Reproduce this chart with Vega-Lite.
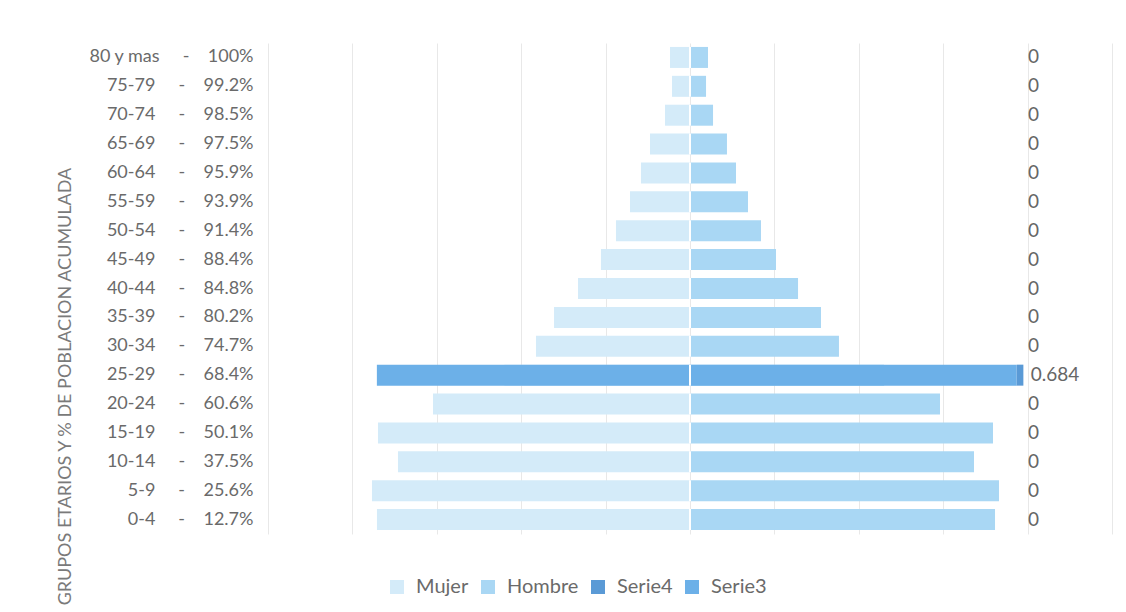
{
  "$schema": "https://vega.github.io/schema/vega-lite/v6.json",
  "width": 844,
  "height": 491,
  "autosize": {"type": "none"},
  "padding": {"left": 268, "top": 43, "right": 14, "bottom": 78},
  "background": "white",
  "config": {"view": {"stroke": null}, "font": "Lato"},
  "datasets": {
    "barras": [
      {"grupo": "80 y mas\u00a0\u00a0\u00a0\u00a0\u00a0-\u00a0\u00a0\u00a0\u00a0100%", "serie": "Mujer", "desde": 0, "hasta": -0.237},
      {"grupo": "75-79\u00a0\u00a0\u00a0\u00a0\u00a0-\u00a0\u00a0\u00a0\u00a099.2%", "serie": "Mujer", "desde": 0, "hasta": -0.213},
      {"grupo": "70-74\u00a0\u00a0\u00a0\u00a0\u00a0-\u00a0\u00a0\u00a0\u00a098.5%", "serie": "Mujer", "desde": 0, "hasta": -0.296},
      {"grupo": "65-69\u00a0\u00a0\u00a0\u00a0\u00a0-\u00a0\u00a0\u00a0\u00a097.5%", "serie": "Mujer", "desde": 0, "hasta": -0.474},
      {"grupo": "60-64\u00a0\u00a0\u00a0\u00a0\u00a0-\u00a0\u00a0\u00a0\u00a095.9%", "serie": "Mujer", "desde": 0, "hasta": -0.581},
      {"grupo": "55-59\u00a0\u00a0\u00a0\u00a0\u00a0-\u00a0\u00a0\u00a0\u00a093.9%", "serie": "Mujer", "desde": 0, "hasta": -0.711},
      {"grupo": "50-54\u00a0\u00a0\u00a0\u00a0\u00a0-\u00a0\u00a0\u00a0\u00a091.4%", "serie": "Mujer", "desde": 0, "hasta": -0.877},
      {"grupo": "45-49\u00a0\u00a0\u00a0\u00a0\u00a0-\u00a0\u00a0\u00a0\u00a088.4%", "serie": "Mujer", "desde": 0, "hasta": -1.055},
      {"grupo": "40-44\u00a0\u00a0\u00a0\u00a0\u00a0-\u00a0\u00a0\u00a0\u00a084.8%", "serie": "Mujer", "desde": 0, "hasta": -1.327},
      {"grupo": "35-39\u00a0\u00a0\u00a0\u00a0\u00a0-\u00a0\u00a0\u00a0\u00a080.2%", "serie": "Mujer", "desde": 0, "hasta": -1.611},
      {"grupo": "30-34\u00a0\u00a0\u00a0\u00a0\u00a0-\u00a0\u00a0\u00a0\u00a074.7%", "serie": "Mujer", "desde": 0, "hasta": -1.825},
      {"grupo": "25-29\u00a0\u00a0\u00a0\u00a0\u00a0-\u00a0\u00a0\u00a0\u00a068.4%", "serie": "Mujer", "desde": 0, "hasta": -2.2},
      {"grupo": "20-24\u00a0\u00a0\u00a0\u00a0\u00a0-\u00a0\u00a0\u00a0\u00a060.6%", "serie": "Mujer", "desde": 0, "hasta": -3.045},
      {"grupo": "15-19\u00a0\u00a0\u00a0\u00a0\u00a0-\u00a0\u00a0\u00a0\u00a050.1%", "serie": "Mujer", "desde": 0, "hasta": -3.697},
      {"grupo": "10-14\u00a0\u00a0\u00a0\u00a0\u00a0-\u00a0\u00a0\u00a0\u00a037.5%", "serie": "Mujer", "desde": 0, "hasta": -3.46},
      {"grupo": "5-9\u00a0\u00a0\u00a0\u00a0\u00a0-\u00a0\u00a0\u00a0\u00a025.6%", "serie": "Mujer", "desde": 0, "hasta": -3.768},
      {"grupo": "0-4\u00a0\u00a0\u00a0\u00a0\u00a0-\u00a0\u00a0\u00a0\u00a012.7%", "serie": "Mujer", "desde": 0, "hasta": -3.709},
      {"grupo": "80 y mas\u00a0\u00a0\u00a0\u00a0\u00a0-\u00a0\u00a0\u00a0\u00a0100%", "serie": "Hombre", "desde": 0, "hasta": 0.213},
      {"grupo": "75-79\u00a0\u00a0\u00a0\u00a0\u00a0-\u00a0\u00a0\u00a0\u00a099.2%", "serie": "Hombre", "desde": 0, "hasta": 0.19},
      {"grupo": "70-74\u00a0\u00a0\u00a0\u00a0\u00a0-\u00a0\u00a0\u00a0\u00a098.5%", "serie": "Hombre", "desde": 0, "hasta": 0.273},
      {"grupo": "65-69\u00a0\u00a0\u00a0\u00a0\u00a0-\u00a0\u00a0\u00a0\u00a097.5%", "serie": "Hombre", "desde": 0, "hasta": 0.438},
      {"grupo": "60-64\u00a0\u00a0\u00a0\u00a0\u00a0-\u00a0\u00a0\u00a0\u00a095.9%", "serie": "Hombre", "desde": 0, "hasta": 0.545},
      {"grupo": "55-59\u00a0\u00a0\u00a0\u00a0\u00a0-\u00a0\u00a0\u00a0\u00a093.9%", "serie": "Hombre", "desde": 0, "hasta": 0.687},
      {"grupo": "50-54\u00a0\u00a0\u00a0\u00a0\u00a0-\u00a0\u00a0\u00a0\u00a091.4%", "serie": "Hombre", "desde": 0, "hasta": 0.841},
      {"grupo": "45-49\u00a0\u00a0\u00a0\u00a0\u00a0-\u00a0\u00a0\u00a0\u00a088.4%", "serie": "Hombre", "desde": 0, "hasta": 1.019},
      {"grupo": "40-44\u00a0\u00a0\u00a0\u00a0\u00a0-\u00a0\u00a0\u00a0\u00a084.8%", "serie": "Hombre", "desde": 0, "hasta": 1.28},
      {"grupo": "35-39\u00a0\u00a0\u00a0\u00a0\u00a0-\u00a0\u00a0\u00a0\u00a080.2%", "serie": "Hombre", "desde": 0, "hasta": 1.552},
      {"grupo": "30-34\u00a0\u00a0\u00a0\u00a0\u00a0-\u00a0\u00a0\u00a0\u00a074.7%", "serie": "Hombre", "desde": 0, "hasta": 1.765},
      {"grupo": "25-29\u00a0\u00a0\u00a0\u00a0\u00a0-\u00a0\u00a0\u00a0\u00a068.4%", "serie": "Hombre", "desde": 0, "hasta": 2.3},
      {"grupo": "20-24\u00a0\u00a0\u00a0\u00a0\u00a0-\u00a0\u00a0\u00a0\u00a060.6%", "serie": "Hombre", "desde": 0, "hasta": 2.962},
      {"grupo": "15-19\u00a0\u00a0\u00a0\u00a0\u00a0-\u00a0\u00a0\u00a0\u00a050.1%", "serie": "Hombre", "desde": 0, "hasta": 3.59},
      {"grupo": "10-14\u00a0\u00a0\u00a0\u00a0\u00a0-\u00a0\u00a0\u00a0\u00a037.5%", "serie": "Hombre", "desde": 0, "hasta": 3.365},
      {"grupo": "5-9\u00a0\u00a0\u00a0\u00a0\u00a0-\u00a0\u00a0\u00a0\u00a025.6%", "serie": "Hombre", "desde": 0, "hasta": 3.661},
      {"grupo": "0-4\u00a0\u00a0\u00a0\u00a0\u00a0-\u00a0\u00a0\u00a0\u00a012.7%", "serie": "Hombre", "desde": 0, "hasta": 3.614},
      {"grupo": "80 y mas\u00a0\u00a0\u00a0\u00a0\u00a0-\u00a0\u00a0\u00a0\u00a0100%", "serie": "Serie3", "desde": 3.84, "hasta": 3.84, "texto": "0"},
      {"grupo": "75-79\u00a0\u00a0\u00a0\u00a0\u00a0-\u00a0\u00a0\u00a0\u00a099.2%", "serie": "Serie3", "desde": 3.84, "hasta": 3.84, "texto": "0"},
      {"grupo": "70-74\u00a0\u00a0\u00a0\u00a0\u00a0-\u00a0\u00a0\u00a0\u00a098.5%", "serie": "Serie3", "desde": 3.84, "hasta": 3.84, "texto": "0"},
      {"grupo": "65-69\u00a0\u00a0\u00a0\u00a0\u00a0-\u00a0\u00a0\u00a0\u00a097.5%", "serie": "Serie3", "desde": 3.84, "hasta": 3.84, "texto": "0"},
      {"grupo": "60-64\u00a0\u00a0\u00a0\u00a0\u00a0-\u00a0\u00a0\u00a0\u00a095.9%", "serie": "Serie3", "desde": 3.84, "hasta": 3.84, "texto": "0"},
      {"grupo": "55-59\u00a0\u00a0\u00a0\u00a0\u00a0-\u00a0\u00a0\u00a0\u00a093.9%", "serie": "Serie3", "desde": 3.84, "hasta": 3.84, "texto": "0"},
      {"grupo": "50-54\u00a0\u00a0\u00a0\u00a0\u00a0-\u00a0\u00a0\u00a0\u00a091.4%", "serie": "Serie3", "desde": 3.84, "hasta": 3.84, "texto": "0"},
      {"grupo": "45-49\u00a0\u00a0\u00a0\u00a0\u00a0-\u00a0\u00a0\u00a0\u00a088.4%", "serie": "Serie3", "desde": 3.84, "hasta": 3.84, "texto": "0"},
      {"grupo": "40-44\u00a0\u00a0\u00a0\u00a0\u00a0-\u00a0\u00a0\u00a0\u00a084.8%", "serie": "Serie3", "desde": 3.84, "hasta": 3.84, "texto": "0"},
      {"grupo": "35-39\u00a0\u00a0\u00a0\u00a0\u00a0-\u00a0\u00a0\u00a0\u00a080.2%", "serie": "Serie3", "desde": 3.84, "hasta": 3.84, "texto": "0"},
      {"grupo": "30-34\u00a0\u00a0\u00a0\u00a0\u00a0-\u00a0\u00a0\u00a0\u00a074.7%", "serie": "Serie3", "desde": 3.84, "hasta": 3.84, "texto": "0"},
      {"grupo": "25-29\u00a0\u00a0\u00a0\u00a0\u00a0-\u00a0\u00a0\u00a0\u00a068.4%", "serie": "Serie3", "desde": -3.71, "hasta": 3.87, "texto": "0.684"},
      {"grupo": "20-24\u00a0\u00a0\u00a0\u00a0\u00a0-\u00a0\u00a0\u00a0\u00a060.6%", "serie": "Serie3", "desde": 3.84, "hasta": 3.84, "texto": "0"},
      {"grupo": "15-19\u00a0\u00a0\u00a0\u00a0\u00a0-\u00a0\u00a0\u00a0\u00a050.1%", "serie": "Serie3", "desde": 3.84, "hasta": 3.84, "texto": "0"},
      {"grupo": "10-14\u00a0\u00a0\u00a0\u00a0\u00a0-\u00a0\u00a0\u00a0\u00a037.5%", "serie": "Serie3", "desde": 3.84, "hasta": 3.84, "texto": "0"},
      {"grupo": "5-9\u00a0\u00a0\u00a0\u00a0\u00a0-\u00a0\u00a0\u00a0\u00a025.6%", "serie": "Serie3", "desde": 3.84, "hasta": 3.84, "texto": "0"},
      {"grupo": "0-4\u00a0\u00a0\u00a0\u00a0\u00a0-\u00a0\u00a0\u00a0\u00a012.7%", "serie": "Serie3", "desde": 3.84, "hasta": 3.84, "texto": "0"},
      {"grupo": "25-29\u00a0\u00a0\u00a0\u00a0\u00a0-\u00a0\u00a0\u00a0\u00a068.4%", "serie": "Serie4", "desde": 3.87, "hasta": 3.95}
    ]
  },
  "data": {"name": "barras"},
  "encoding": {
    "y": {
      "field": "grupo",
      "type": "nominal",
      "sort": [
        "80 y mas\u00a0\u00a0\u00a0\u00a0\u00a0-\u00a0\u00a0\u00a0\u00a0100%",
        "75-79\u00a0\u00a0\u00a0\u00a0\u00a0-\u00a0\u00a0\u00a0\u00a099.2%",
        "70-74\u00a0\u00a0\u00a0\u00a0\u00a0-\u00a0\u00a0\u00a0\u00a098.5%",
        "65-69\u00a0\u00a0\u00a0\u00a0\u00a0-\u00a0\u00a0\u00a0\u00a097.5%",
        "60-64\u00a0\u00a0\u00a0\u00a0\u00a0-\u00a0\u00a0\u00a0\u00a095.9%",
        "55-59\u00a0\u00a0\u00a0\u00a0\u00a0-\u00a0\u00a0\u00a0\u00a093.9%",
        "50-54\u00a0\u00a0\u00a0\u00a0\u00a0-\u00a0\u00a0\u00a0\u00a091.4%",
        "45-49\u00a0\u00a0\u00a0\u00a0\u00a0-\u00a0\u00a0\u00a0\u00a088.4%",
        "40-44\u00a0\u00a0\u00a0\u00a0\u00a0-\u00a0\u00a0\u00a0\u00a084.8%",
        "35-39\u00a0\u00a0\u00a0\u00a0\u00a0-\u00a0\u00a0\u00a0\u00a080.2%",
        "30-34\u00a0\u00a0\u00a0\u00a0\u00a0-\u00a0\u00a0\u00a0\u00a074.7%",
        "25-29\u00a0\u00a0\u00a0\u00a0\u00a0-\u00a0\u00a0\u00a0\u00a068.4%",
        "20-24\u00a0\u00a0\u00a0\u00a0\u00a0-\u00a0\u00a0\u00a0\u00a060.6%",
        "15-19\u00a0\u00a0\u00a0\u00a0\u00a0-\u00a0\u00a0\u00a0\u00a050.1%",
        "10-14\u00a0\u00a0\u00a0\u00a0\u00a0-\u00a0\u00a0\u00a0\u00a037.5%",
        "5-9\u00a0\u00a0\u00a0\u00a0\u00a0-\u00a0\u00a0\u00a0\u00a025.6%",
        "0-4\u00a0\u00a0\u00a0\u00a0\u00a0-\u00a0\u00a0\u00a0\u00a012.7%"
      ],
      "scale": {"paddingInner": 0, "paddingOuter": 0},
      "axis": {
        "title": "GRUPOS ETARIOS Y % DE POBLACION ACUMULADA",
        "titleX": -203,
        "titleY": 343,
        "titleAngle": -90,
        "titleAlign": "center",
        "titleBaseline": "middle",
        "titleFont": "Lato",
        "titleFontSize": 18,
        "titleFontWeight": "normal",
        "titleColor": "#7a7a7a",
        "labelFont": "Lato",
        "labelFontSize": 18,
        "labelColor": "#6a6a6a",
        "labelPadding": 15,
        "labelLimit": 300,
        "ticks": false,
        "tickSize": 0,
        "domain": false
      }
    }
  },
  "layer": [
    {
      "mark": {"type": "bar", "height": 21},
      "encoding": {
        "x": {
          "field": "desde",
          "type": "quantitative",
          "scale": {"domain": [-5, 5], "nice": false, "zero": false},
          "axis": {
            "values": [-5, -4, -3, -2, -1, 0, 1, 2, 3, 4, 5],
            "labels": false,
            "ticks": false,
            "domain": false,
            "grid": true,
            "gridColor": "#e8e8e8",
            "gridWidth": 1,
            "title": null
          }
        },
        "x2": {"field": "hasta"},
        "color": {
          "field": "serie",
          "type": "nominal",
          "scale": {
            "domain": ["Mujer", "Hombre", "Serie4", "Serie3"],
            "range": ["#d4ebf9", "#a9d7f4", "#5a9ad6", "#6cb0e8"]
          },
          "legend": {
            "orient": "none",
            "legendX": 119,
            "legendY": 534,
            "direction": "horizontal",
            "title": null,
            "symbolType": "square",
            "symbolSize": 196,
            "symbolStrokeWidth": 0,
            "labelFont": "Lato",
            "labelFontSize": 20,
            "labelColor": "#6a6a6a",
            "labelOffset": 9,
            "columnPadding": 9
          }
        }
      }
    },
    {
      "transform": [{"filter": "datum.serie == 'Serie3'"}],
      "mark": {"type": "tick", "orient": "vertical", "color": "white", "size": 21, "thickness": 2, "opacity": 1},
      "encoding": {"x": {"datum": 0, "type": "quantitative"}}
    },
    {
      "transform": [{"filter": "datum.serie == 'Serie3'"}],
      "mark": {"type": "text", "align": "left", "baseline": "middle", "dx": 14, "font": "Lato", "fontSize": 19, "color": "#666666"},
      "encoding": {
        "x": {"field": "hasta", "type": "quantitative"},
        "text": {"field": "texto"}
      }
    }
  ]
}
